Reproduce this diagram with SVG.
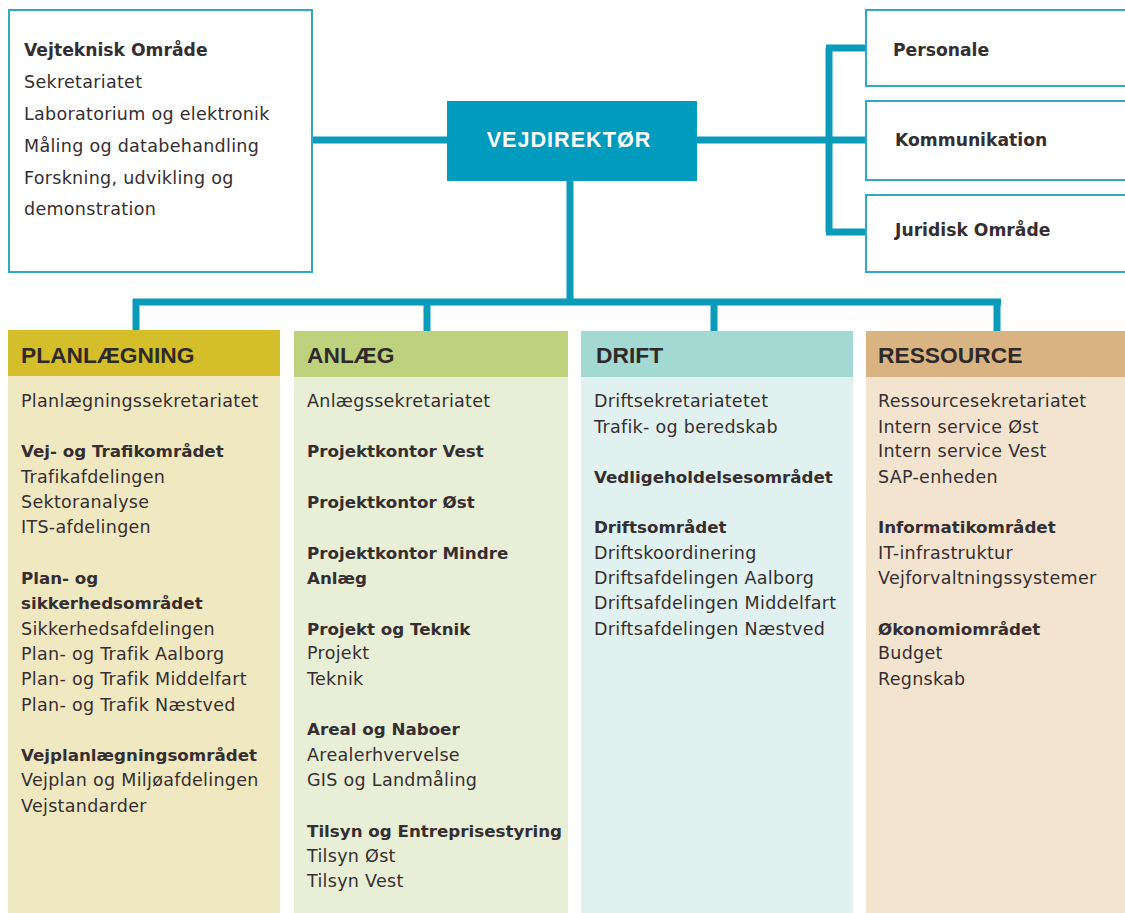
<svg xmlns="http://www.w3.org/2000/svg" width="1125" height="913" viewBox="0 0 1125 913">
<style>
.box{fill:#fff;stroke:#2ea9c6;stroke-width:2}
.con{stroke:#0a9bbb;stroke-width:7;fill:none}
.t{font-family:"DejaVu Sans",Verdana,sans-serif;font-size:17.5px;letter-spacing:0.3px;fill:#352e30}
.b{font-weight:bold;font-size:16.7px;letter-spacing:0}
.tb{font-size:17.2px}
.h{font-family:"Liberation Sans",Arial,sans-serif;font-weight:bold;font-size:22.8px;fill:#2f2a28}
.dir{font-family:"Liberation Sans",Arial,sans-serif;font-weight:bold;font-size:21.6px;fill:#fff;letter-spacing:1px}
</style>
<rect width="1125" height="913" fill="#fff"/>
<g id="connectors">
<path class="con" d="M312 140H447M697 140H829M829 48V232M826 48H866M826 232H866M829 140H866"/>
<path class="con" d="M570 181V302M133 302H1001M136 299V331M427 299V331M714 299V331M997 299V331"/>
</g>
<g id="vejteknisk">
<rect class="box" x="9" y="10" width="303" height="262"/>
<text class="t" x="24"><tspan class="b tb" y="56">Vejteknisk Område</tspan><tspan x="24" y="88">Sekretariatet</tspan><tspan x="24" y="120">Laboratorium og elektronik</tspan><tspan x="24" y="152">Måling og databehandling</tspan><tspan x="24" y="184">Forskning, udvikling og</tspan><tspan x="24" y="215">demonstration</tspan></text>
</g>
<g id="vejdirektor">
<rect x="447" y="101" width="250" height="80" fill="#009bbd"/>
<text class="dir" x="569" y="147" text-anchor="middle">VEJDIREKTØR</text>
</g>
<g id="personale">
<rect class="box" x="866" y="10" width="270" height="76"/>
<text class="t b tb" x="893" y="56">Personale</text>
</g>
<g id="kommunikation">
<rect class="box" x="866" y="101" width="270" height="79"/>
<text class="t b tb" x="895" y="146">Kommunikation</text>
</g>
<g id="juridisk">
<rect class="box" x="866" y="195" width="270" height="77"/>
<text class="t b tb" x="895" y="236">Juridisk Område</text>
</g>
<g id="planlaegning">
<rect x="8" y="376" width="272" height="537" fill="#f0e8c0"/>
<rect x="8" y="330" width="272" height="46" fill="#d4be2a"/>
<text class="h" x="21" y="363">PLANLÆGNING</text>
<text class="t" x="21"><tspan y="407">Planlægningssekretariatet</tspan><tspan class="b" x="21" y="457">Vej- og Trafikområdet</tspan><tspan x="21" y="483">Trafikafdelingen</tspan><tspan x="21" y="508">Sektoranalyse</tspan><tspan x="21" y="533">ITS-afdelingen</tspan><tspan class="b" x="21" y="584">Plan- og</tspan><tspan class="b" x="21" y="609">sikkerhedsområdet</tspan><tspan x="21" y="635">Sikkerhedsafdelingen</tspan><tspan x="21" y="660">Plan- og Trafik Aalborg</tspan><tspan x="21" y="685">Plan- og Trafik Middelfart</tspan><tspan x="21" y="711">Plan- og Trafik Næstved</tspan><tspan class="b" x="21" y="761">Vejplanlægningsområdet</tspan><tspan x="21" y="786">Vejplan og Miljøafdelingen</tspan><tspan x="21" y="812">Vejstandarder</tspan></text>
</g>
<g id="anlaeg">
<rect x="294" y="377" width="274" height="536" fill="#e8efd6"/>
<rect x="294" y="331" width="274" height="46" fill="#bed27e"/>
<text class="h" x="307" y="363">ANLÆG</text>
<text class="t" x="307"><tspan y="407">Anlægssekretariatet</tspan><tspan class="b" x="307" y="457">Projektkontor Vest</tspan><tspan class="b" x="307" y="508">Projektkontor Øst</tspan><tspan class="b" x="307" y="559">Projektkontor Mindre</tspan><tspan class="b" x="307" y="584">Anlæg</tspan><tspan class="b" x="307" y="635">Projekt og Teknik</tspan><tspan x="307" y="659">Projekt</tspan><tspan x="307" y="685">Teknik</tspan><tspan class="b" x="307" y="735">Areal og Naboer</tspan><tspan x="307" y="761">Arealerhvervelse</tspan><tspan x="307" y="786">GIS og Landmåling</tspan><tspan class="b" x="307" y="837">Tilsyn og Entreprisestyring</tspan><tspan x="307" y="862">Tilsyn Øst</tspan><tspan x="307" y="887">Tilsyn Vest</tspan></text>
</g>
<g id="drift">
<rect x="581" y="377" width="272" height="536" fill="#e0f1ef"/>
<rect x="581" y="331" width="272" height="46" fill="#a3d9d3"/>
<text class="h" x="596" y="363">DRIFT</text>
<text class="t" x="594"><tspan y="407">Driftsekretariatetet</tspan><tspan x="594" y="433">Trafik- og beredskab</tspan><tspan class="b" x="594" y="483">Vedligeholdelsesområdet</tspan><tspan class="b" x="594" y="533">Driftsområdet</tspan><tspan x="594" y="559">Driftskoordinering</tspan><tspan x="594" y="584">Driftsafdelingen Aalborg</tspan><tspan x="594" y="609">Driftsafdelingen Middelfart</tspan><tspan x="594" y="635">Driftsafdelingen Næstved</tspan></text>
</g>
<g id="ressource">
<rect x="866" y="377" width="259" height="536" fill="#f3e4d0"/>
<rect x="866" y="331" width="259" height="46" fill="#d9b382"/>
<text class="h" x="878" y="363">RESSOURCE</text>
<text class="t" x="878"><tspan y="407">Ressourcesekretariatet</tspan><tspan x="878" y="433">Intern service Øst</tspan><tspan x="878" y="457">Intern service Vest</tspan><tspan x="878" y="483">SAP-enheden</tspan><tspan class="b" x="878" y="533">Informatikområdet</tspan><tspan x="878" y="559">IT-infrastruktur</tspan><tspan x="878" y="584">Vejforvaltningssystemer</tspan><tspan class="b" x="878" y="635">Økonomiområdet</tspan><tspan x="878" y="659">Budget</tspan><tspan x="878" y="685">Regnskab</tspan></text>
</g>
</svg>
